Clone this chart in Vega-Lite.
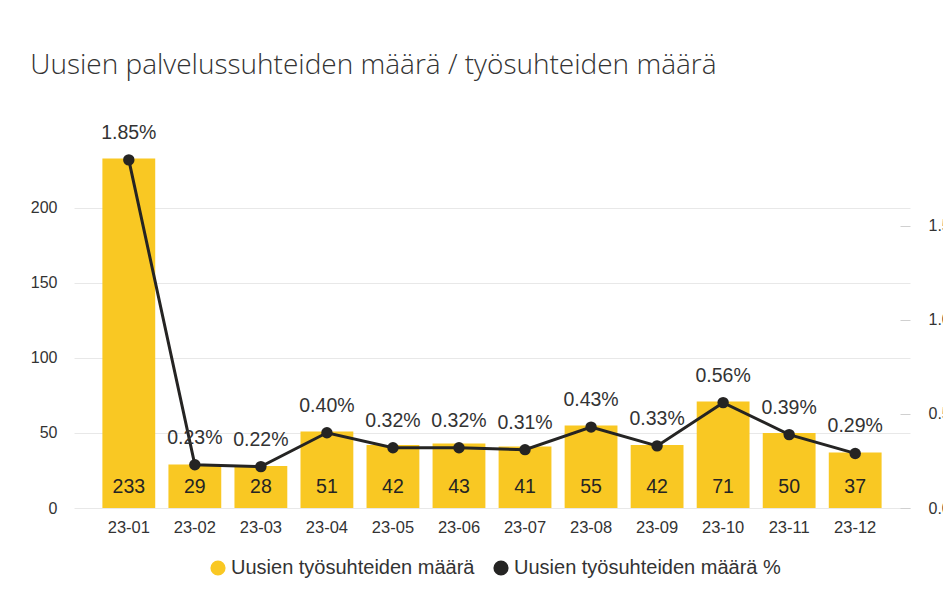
{
  "$schema": "https://vega.github.io/schema/vega-lite/v6.json",
  "width": 836,
  "height": 350,
  "padding": {"left": 30, "top": 51, "right": -14, "bottom": 0},
  "background": "white",
  "title": {
    "text": "Uusien palvelussuhteiden määrä / työsuhteiden määrä",
    "anchor": "start",
    "font": "Open Sans",
    "fontWeight": 300,
    "fontSize": 28,
    "color": "#333333",
    "offset": 43
  },
  "data": {
    "values": [
      {"kk": "23-01", "n": 233, "p": 0.0185},
      {"kk": "23-02", "n": 29, "p": 0.0023},
      {"kk": "23-03", "n": 28, "p": 0.0022},
      {"kk": "23-04", "n": 51, "p": 0.0040},
      {"kk": "23-05", "n": 42, "p": 0.0032},
      {"kk": "23-06", "n": 43, "p": 0.0032},
      {"kk": "23-07", "n": 41, "p": 0.0031},
      {"kk": "23-08", "n": 55, "p": 0.0043},
      {"kk": "23-09", "n": 42, "p": 0.0033},
      {"kk": "23-10", "n": 71, "p": 0.0056},
      {"kk": "23-11", "n": 50, "p": 0.0039},
      {"kk": "23-12", "n": 37, "p": 0.0029}
    ]
  },
  "encoding": {
    "x": {
      "field": "kk",
      "type": "ordinal",
      "scale": {"paddingInner": 0.2, "paddingOuter": 0.43},
      "axis": {
        "title": null,
        "labelAngle": 0,
        "domain": false,
        "ticks": false,
        "labelPadding": 11,
        "labelFont": "Liberation Sans",
        "labelFontSize": 16.5,
        "labelColor": "#333333"
      }
    }
  },
  "layer": [
    {
      "layer": [
        {
          "mark": {"type": "bar"},
          "encoding": {
            "y": {
              "field": "n",
              "type": "quantitative",
              "scale": {"domain": [0, 233.3], "nice": false},
              "axis": {
                "title": null,
                "values": [0, 50, 100, 150, 200],
                "grid": true,
                "gridColor": "#e8e8e8",
                "domain": false,
                "ticks": false,
                "labelPadding": 17,
                "minExtent": 43,
                "labelFont": "Liberation Sans",
                "labelFontSize": 16,
                "labelColor": "#333333"
              }
            },
            "color": {
              "datum": "Uusien työsuhteiden määrä",
              "scale": {
                "domain": ["Uusien työsuhteiden määrä", "Uusien työsuhteiden määrä %"],
                "range": ["#F9C823", "#252423"]
              },
              "legend": {
                "symbolType": "circle",
                "orient": "none",
                "direction": "horizontal",
                "legendX": 134,
                "legendY": 400
              }
            }
          }
        },
        {
          "mark": {"type": "text", "dy": -15, "baseline": "alphabetic", "font": "Liberation Sans", "fontSize": 19.5, "color": "#252423"},
          "encoding": {
            "y": {"datum": 0, "type": "quantitative"},
            "text": {"field": "n", "type": "quantitative"}
          }
        }
      ]
    },
    {
      "layer": [
        {
          "mark": {"type": "line", "color": "#252423", "strokeWidth": 3},
          "encoding": {
            "y": {
              "field": "p",
              "type": "quantitative",
              "scale": {"domain": [0, 0.0186], "nice": false},
              "axis": {
                "orient": "right",
                "title": null,
                "values": [0, 0.005, 0.01, 0.015],
                "format": ".1%",
                "grid": false,
                "domain": false,
                "tickSize": -10,
                "tickColor": "#d0d0d0",
                "labelPadding": 28,
                "labelFont": "Liberation Sans",
                "labelFontSize": 16,
                "labelColor": "#333333"
              }
            }
          }
        },
        {
          "mark": {"type": "point", "filled": true, "size": 130, "opacity": 1},
          "encoding": {
            "y": {"field": "p", "type": "quantitative"},
            "color": {"datum": "Uusien työsuhteiden määrä %"}
          }
        },
        {
          "mark": {"type": "text", "dy": -21, "baseline": "alphabetic", "font": "Liberation Sans", "fontSize": 19.5, "color": "#333333"},
          "encoding": {
            "y": {"field": "p", "type": "quantitative"},
            "text": {"field": "p", "type": "quantitative", "format": ".2%"}
          }
        }
      ]
    }
  ],
  "resolve": {"scale": {"y": "independent"}},
  "config": {
    "view": {"stroke": null},
    "legend": {
      "title": null,
      "symbolType": "circle",
      "symbolSize": 230,
      "symbolOpacity": 1,
      "symbolStrokeWidth": 0,
      "labelFont": "Liberation Sans",
      "labelFontSize": 20,
      "labelColor": "#333333",
      "labelLimit": 500,
      "labelOffset": 3,
      "columnPadding": 16
    }
  }
}
